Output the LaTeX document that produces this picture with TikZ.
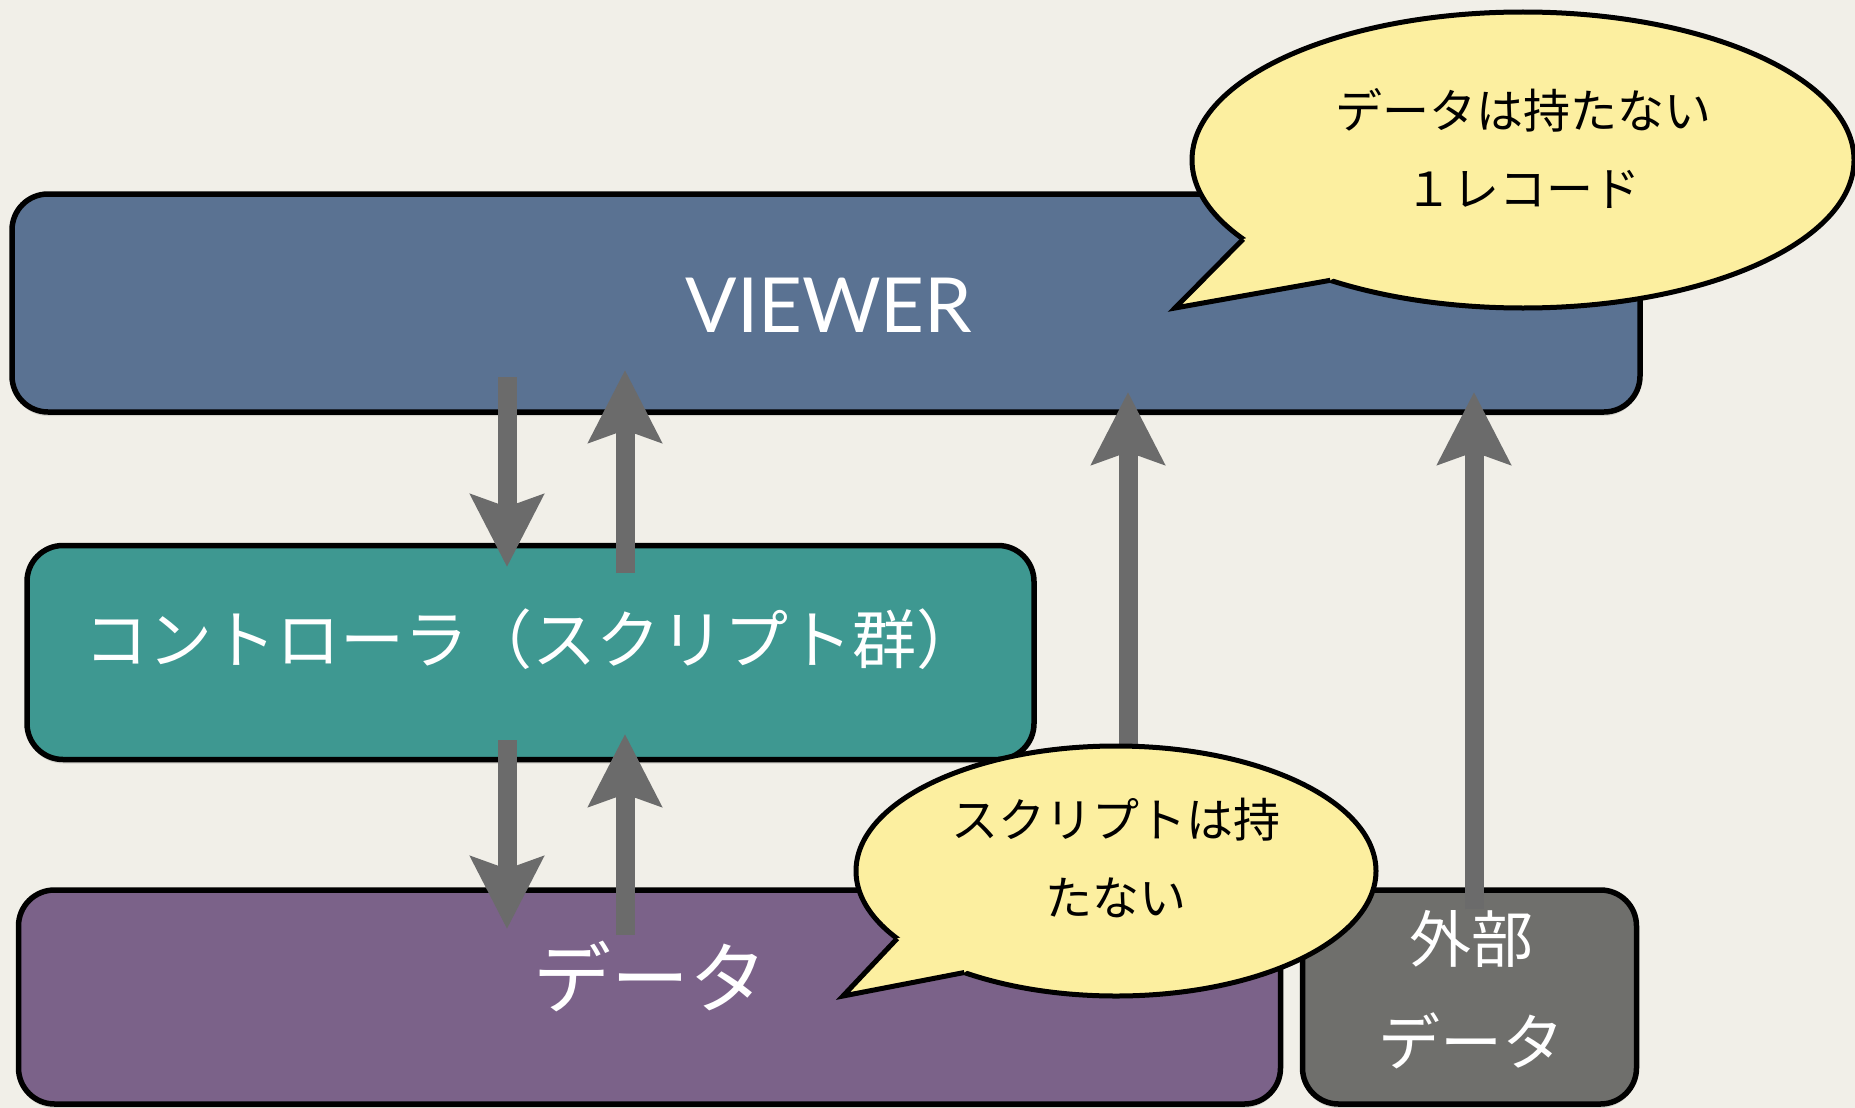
\documentclass[tikz,border=0pt]{standalone}
\usepackage{fontspec}
\newfontfamily\jpfont{Noto Sans CJK JP}
\newfontfamily\latfont{Lato}
\usetikzlibrary{arrows.meta,shadows}
\definecolor{bgc}{HTML}{F1EFE8}
\definecolor{viewerc}{HTML}{5A7292}
\definecolor{ctrlc}{HTML}{3E9891}
\definecolor{datac}{HTML}{7B6289}
\definecolor{extc}{HTML}{6F6F6C}
\definecolor{arrowc}{HTML}{6B6B6B}
\definecolor{bubblec}{HTML}{FCEFA0}
\begin{document}
\begin{tikzpicture}[x=1pt,y=-1pt,
  box/.style={draw=black, line width=5.5pt, rounded corners=36pt, inner sep=0pt,
    drop shadow={opacity=0.25, shadow xshift=0pt, shadow yshift=-4pt}},
  flow/.style={draw=arrowc, line width=19pt, line cap=butt,
    -{Stealth[length=72pt,width=72pt,inset=12pt]}},
  wtext/.style={text=white, inner sep=0pt},
  btext/.style={text=black, inner sep=0pt, align=center},
  bubblefill/.style={fill=bubblec},
  bubbleline/.style={draw=black, line width=5pt, line join=miter}
]
% background / bounding box
\fill[bgc] (0,0) rectangle (1855,1108);
\useasboundingbox (0,0) rectangle (1855,1108);
\clip (0,0) rectangle (1855,1108);

% boxes
\node[box, fill=viewerc, minimum width=1628pt, minimum height=218pt] (viewer) at (826,303) {};
\node[box, fill=ctrlc, minimum width=1007pt, minimum height=214pt] (ctrl) at (530.5,652.5) {};
\node[box, fill=datac, minimum width=1262pt, minimum height=214pt] (data) at (649.5,997) {};
\node[box, fill=extc, minimum width=334pt, minimum height=214pt] (ext) at (1469.5,997) {};

% box texts
\node[wtext, font=\latfont\fontsize{76}{86}\selectfont] (viewertxt) at (829,305) {VIEWER};
\node[wtext, font=\jpfont\fontsize{64}{72}\selectfont] (ctrltxt) at (532,639) {コントローラ（スクリプト群）};
\node[wtext, font=\jpfont\fontsize{78}{88}\selectfont] (datatxt) at (650,976) {データ};

% arrow end points
\coordinate (a1s) at (507,377); \coordinate (a1e) at (507,567);
\coordinate (a2s) at (625,573); \coordinate (a2e) at (625,370);
\coordinate (a3s) at (507,740); \coordinate (a3e) at (507,929);
\coordinate (a4s) at (625,935); \coordinate (a4e) at (625,734);
\coordinate (a5s) at (1128,820); \coordinate (a5e) at (1128,392);
\coordinate (a6s) at (1474,909); \coordinate (a6e) at (1474,392);

\draw[flow] (a1s) -- (a1e);
\draw[flow] (a2s) -- (a2e);
\draw[flow] (a3s) -- (a3e);
\draw[flow] (a4s) -- (a4e);
\draw[flow] (a5s) -- (a5e);
\draw[flow] (a6s) -- (a6e);

% external data text
\node[wtext, align=center, font=\jpfont\fontsize{62}{103}\selectfont] (exttxt) at (1471,990) {外部\\データ};

% bubble 1
\coordinate (b1c) at (1523,160);
\coordinate (b1a) at (1243.2,239.1);
\coordinate (b1t) at (1175,308);
\coordinate (b1b) at (1330.3,280.3);
\path[bubblefill, bubbleline] (b1c) ellipse [x radius=331pt, y radius=148pt];
\fill[bubblec] (b1a) -- (b1t) -- (b1b) -- (b1c) -- cycle;
\draw[bubbleline] (b1a) -- (b1t) -- (b1b);
\node[btext, font=\jpfont\fontsize{47}{78}\selectfont] (b1txt) at (1523,148) {データは持たない\\１レコード};

% bubble 2
\coordinate (b2c) at (1116,871);
\coordinate (b2a) at (897.2,938.5);
\coordinate (b2t) at (843,996);
\coordinate (b2b) at (964.3,972.5);
\path[bubblefill, bubbleline] (b2c) ellipse [x radius=260pt, y radius=125pt];
\fill[bubblec] (b2a) -- (b2t) -- (b2b) -- (b2c) -- cycle;
\draw[bubbleline] (b2a) -- (b2t) -- (b2b);
\node[btext, font=\jpfont\fontsize{47}{78}\selectfont] (b2txt) at (1116,858) {スクリプトは持\\たない};
\end{tikzpicture}
\end{document}
